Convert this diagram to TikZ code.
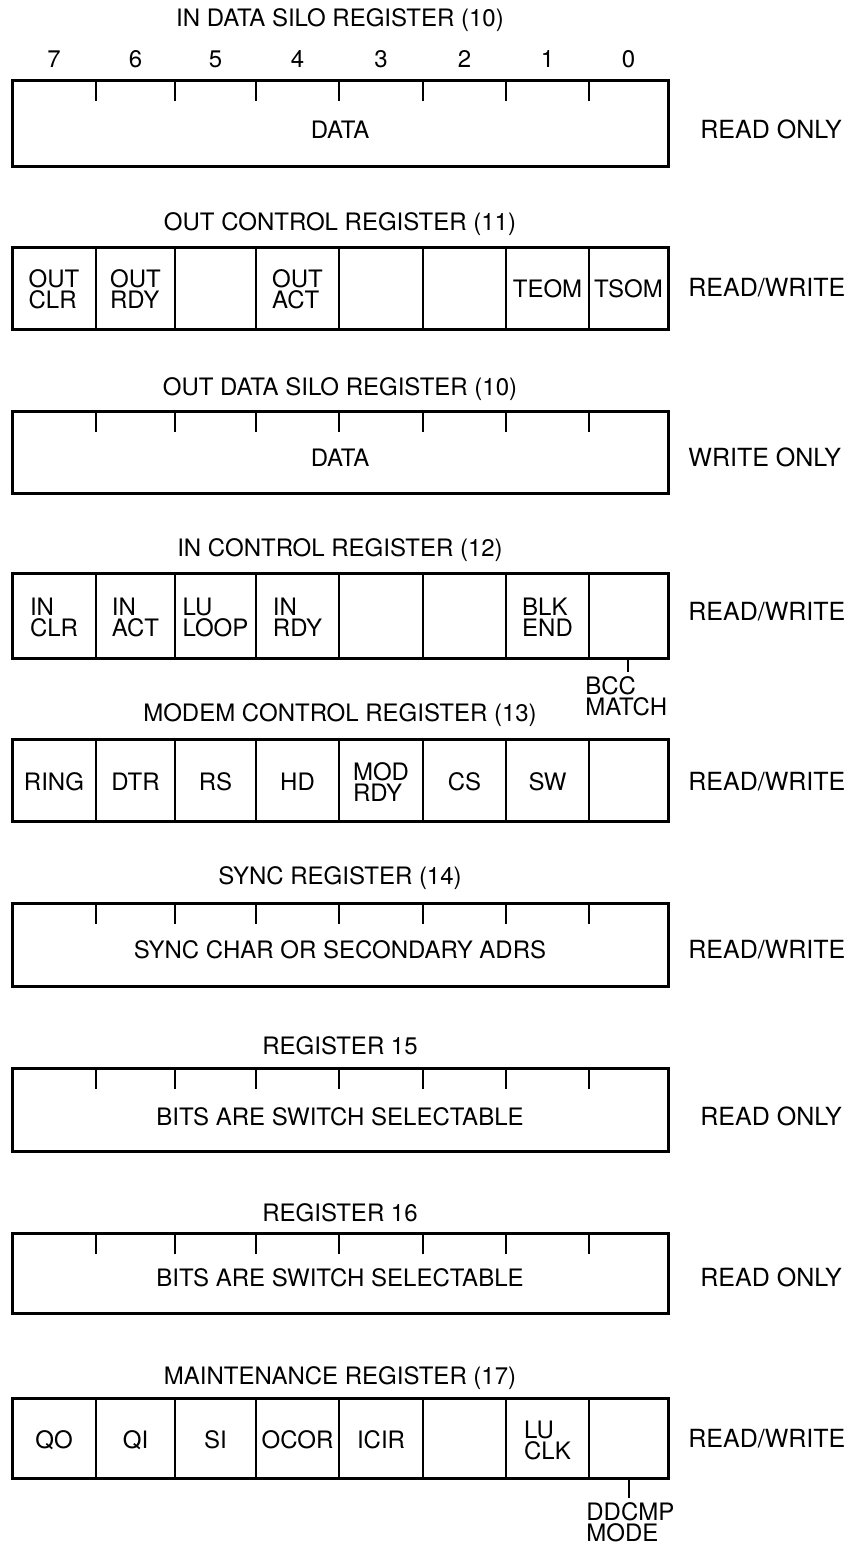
\documentclass[tikz,border=0pt]{standalone}
\usepackage{fontspec}
\setmainfont{TeX Gyre Heros}

\tikzset{
	regbox/.style={line width=1.5pt},
	divider/.style={line width=0.9pt},
	regtitle/.style={font=\fontsize{12}{11}\selectfont, anchor=base, inner sep=0pt},
	celltext/.style={font=\fontsize{12}{10.5}\selectfont, align=left, inner sep=0pt},
	access/.style={font=\fontsize{12.5}{11}\selectfont, anchor=base west, inner sep=0pt},
	tapnote/.style={celltext, anchor=north west, inner ysep=2pt},
}

\begin{document}
\begin{tikzpicture}[x=0.5pt,y=-0.5pt]
	\useasboundingbox (0,0) rectangle (851,1552);
%
	% IN DATA SILO REGISTER
	\node[regtitle] (t10in) at (340,27) {IN DATA SILO REGISTER (10)};
	\foreach \cx/\b in {54/7,135.5/6,215.5/5,297.5/4,381/3,464.5/2,547.5/1,628.5/0}
		\node[regtitle] (bit\b) at (\cx,68) {\b};
	\draw[regbox] (12,81) rectangle (668,166);
	\foreach \x in {96,175,256,339,423,506,589} \draw[divider] (\x,81) -- (\x,101);
	\node[celltext] (indata) at (340,130) {DATA};
	\node[access] (acc10in) at (700,138.5) {READ ONLY};
%
	% OUT CONTROL REGISTER
	\node[regtitle] (t11) at (340,230) {OUT CONTROL REGISTER (11)};
	\draw[regbox] (12,247) rectangle (668,329);
	\foreach \x in {96,175,256,339,423,506,589} \draw[divider] (\x,247) -- (\x,329);
	\foreach \cx/\lbl/\nm in {54/{OUT\\CLR}/outclr,135.5/{OUT\\RDY}/outrdy,297.5/{OUT\\ACT}/outact,547.5/TEOM/teom,628.5/TSOM/tsom}
		\node[celltext] (\nm) at (\cx,289) {\lbl};
	\node[access] (acc11) at (688,296.5) {READ/WRITE};
%
	% OUT DATA SILO REGISTER
	\node[regtitle] (t10out) at (340,395) {OUT DATA SILO REGISTER (10)};
	\draw[regbox] (12,411) rectangle (668,493);
	\foreach \x in {96,175,256,339,423,506,589} \draw[divider] (\x,411) -- (\x,432);
	\node[celltext] (outdata) at (340,458) {DATA};
	\node[access] (acc10out) at (688,466.5) {WRITE ONLY};
%
	% IN CONTROL REGISTER
	\node[regtitle] (t12) at (340,556) {IN CONTROL REGISTER (12)};
	\draw[regbox] (12,573) rectangle (668,658);
	\foreach \x in {96,175,256,339,423,506,589} \draw[divider] (\x,573) -- (\x,658);
	\foreach \cx/\lbl/\nm in {54/{IN\\CLR}/inclr,135.5/{IN\\ACT}/inact,215.5/{LU\\LOOP}/luloop,297.5/{IN\\RDY}/inrdy,547.5/{BLK\\END}/blkend}
		\node[celltext] (\nm) at (\cx,617) {\lbl};
	\node[access] (acc12) at (688,620.5) {READ/WRITE};
	\coordinate (bcctap) at (628,658);
	\node[tapnote] (bccmatch) at (585,672) {BCC\\MATCH};
	\draw[divider] (bcctap) -- (bcctap |- bccmatch.north);
%
	% MODEM CONTROL REGISTER
	\node[regtitle] (t13) at (340,721) {MODEM CONTROL REGISTER (13)};
	\draw[regbox] (12,739) rectangle (668,821);
	\foreach \x in {96,175,256,339,423,506,589} \draw[divider] (\x,739) -- (\x,821);
	\foreach \cx/\lbl/\nm in {54/RING/ring,135.5/DTR/dtr,215.5/RS/rs,297.5/HD/hd,381/{MOD\\RDY}/modrdy,464.5/CS/cs,547.5/SW/sw}
		\node[celltext] (\nm) at (\cx,782) {\lbl};
	\node[access] (acc13) at (688,790.5) {READ/WRITE};
%
	% SYNC REGISTER
	\node[regtitle] (t14) at (340,884) {SYNC REGISTER (14)};
	\draw[regbox] (12,903) rectangle (668,986);
	\foreach \x in {96,175,256,339,423,506,589} \draw[divider] (\x,903) -- (\x,924);
	\node[celltext] (syncchar) at (340,950) {SYNC CHAR OR SECONDARY ADRS};
	\node[access] (acc14) at (688,958.5) {READ/WRITE};
%
	% REGISTER 15
	\node[regtitle] (t15) at (340,1054) {REGISTER 15};
	\draw[regbox] (12,1068) rectangle (668,1151);
	\foreach \x in {96,175,256,339,423,506,589} \draw[divider] (\x,1068) -- (\x,1089);
	\node[celltext] (switch15) at (340,1117) {BITS ARE SWITCH SELECTABLE};
	\node[access] (acc15) at (700,1125.5) {READ ONLY};
%
	% REGISTER 16
	\node[regtitle] (t16) at (340,1221) {REGISTER 16};
	\draw[regbox] (12,1233) rectangle (668,1313);
	\foreach \x in {96,175,256,339,423,506,589} \draw[divider] (\x,1233) -- (\x,1254);
	\node[celltext] (switch16) at (340,1278) {BITS ARE SWITCH SELECTABLE};
	\node[access] (acc16) at (700,1286.5) {READ ONLY};
%
	% MAINTENANCE REGISTER
	\node[regtitle] (t17) at (340,1384) {MAINTENANCE REGISTER (17)};
	\draw[regbox] (12,1398) rectangle (668,1478);
	\foreach \x in {96,175,256,339,423,506,589} \draw[divider] (\x,1398) -- (\x,1478);
	\foreach \cx/\lbl/\nm in {54/QO/qo,135.5/QI/qi,215.5/SI/si,297.5/OCOR/ocor,381/ICIR/icir,547.5/{LU\\CLK}/luclk}
		\node[celltext] (\nm) at (\cx,1440) {\lbl};
	\node[access] (acc17) at (688,1447.5) {READ/WRITE};
	\coordinate (ddcmptap) at (629,1478);
	\node[tapnote] (ddcmpmode) at (586,1498) {DDCMP\\MODE};
	\draw[divider] (ddcmptap) -- (ddcmptap |- ddcmpmode.north);
\end{tikzpicture}
\end{document}
